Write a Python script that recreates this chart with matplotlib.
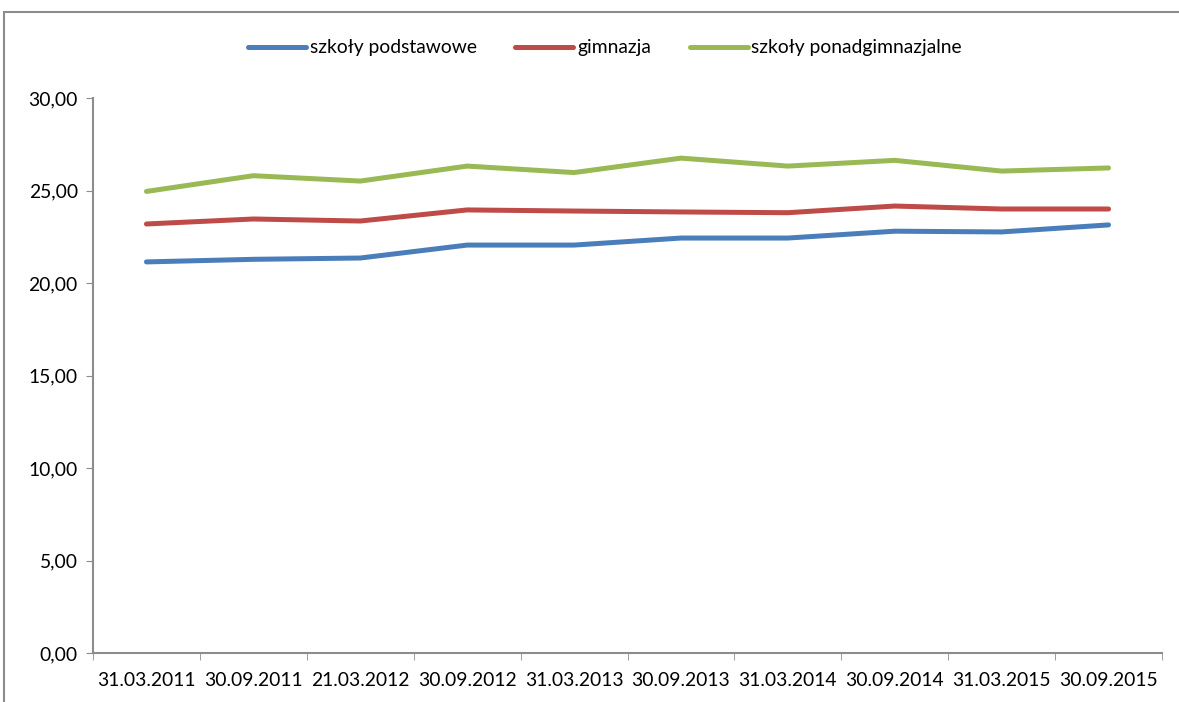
import matplotlib.pyplot as plt
from matplotlib.patches import Rectangle
from matplotlib.ticker import FuncFormatter
import numpy as np

plt.rcParams['font.family'] = ['Lato', 'DejaVu Sans']

#####資料#####
dates = ["31.03.2011", "30.09.2011", "21.03.2012", "30.09.2012", "31.03.2013",
         "30.09.2013", "31.03.2014", "30.09.2014", "31.03.2015", "30.09.2015"]
podstawowe = [21.14, 21.28, 21.35, 22.05, 22.05, 22.43, 22.43, 22.80, 22.76, 23.14]
gimnazja = [23.19, 23.46, 23.35, 23.95, 23.89, 23.84, 23.80, 24.16, 24.00, 24.00]
ponadgimn = [24.95, 25.80, 25.51, 26.32, 25.97, 26.75, 26.32, 26.63, 26.05, 26.22]
names = ["szkoły podstawowe", "gimnazja", "szkoły ponadgimnazjalne"]
colors = ["#4A7EBB", "#BE4B48", "#98B954"]
fs = 13.9

fig = plt.figure(figsize=(11.79, 7.02), dpi=100)

#####外框#####
fig.patches.append(Rectangle((4/1179, -0.1), 1.2, 1 - 12/702 + 0.1, transform=fig.transFigure,
                             fill=False, edgecolor="#8C8C8C", linewidth=1.5))

ax = fig.add_axes([93/1179, 1 - 653/702, (1162 - 93)/1179, (653 - 98)/702])
x = np.arange(len(dates))
for vals, name, c in zip([podstawowe, gimnazja, ponadgimn], names, colors):
    ax.plot(x, vals, color=c, linewidth=3.6, label=name, solid_capstyle='round')

ax.set_xlim(-0.5, len(dates) - 0.5)
ax.set_ylim(0, 30)
ax.set_yticks(np.arange(0, 31, 5))
ax.yaxis.set_major_formatter(FuncFormatter(lambda v, p: ("%.2f" % v).replace(".", ",")))
ax.set_xticks(x)
ax.set_xticklabels(dates)
ax.set_xticks(np.arange(-0.5, len(dates), 1), minor=True)
ax.tick_params(axis='x', which='major', length=0, pad=14, labelsize=fs)
ax.tick_params(axis='x', which='minor', length=5, color="#8C8C8C", direction='out')
ax.tick_params(axis='y', length=5, color="#8C8C8C", labelsize=fs, pad=6)
for s in ['top', 'right']:
    ax.spines[s].set_visible(False)
for s in ['left', 'bottom']:
    ax.spines[s].set_color("#8C8C8C")
    ax.spines[s].set_linewidth(1.5)

fig.legend(loc='center', bbox_to_anchor=(605/1179, 1 - 48/702), ncol=3, frameon=False,
           fontsize=fs, handlelength=3.0, handletextpad=0.2, columnspacing=2.0)

fig.savefig("out.png", dpi=100)
